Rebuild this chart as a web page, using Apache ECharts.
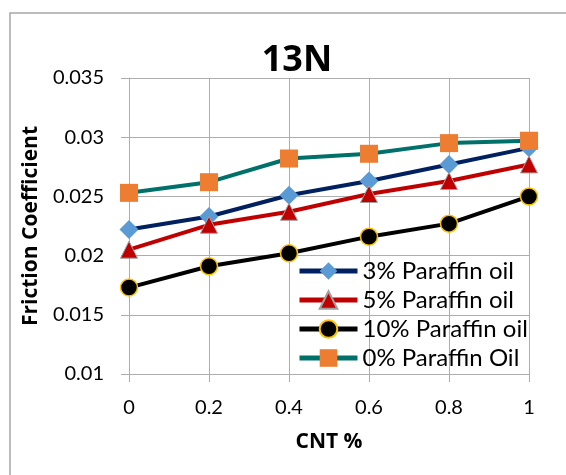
<!DOCTYPE html>
<html><head><meta charset="utf-8">
<script src="https://cdn.jsdelivr.net/npm/echarts@6/dist/echarts.min.js"></script>
<style>html,body{margin:0;padding:0;background:#fff}#c{width:566px;height:475px}</style>
</head><body><div id="c"></div>
<script>
const cnt = [0, 0.2, 0.4, 0.6, 0.8, 1];
const seriesNames = ['3% Paraffin oil', '5% Paraffin oil', '10% Paraffin oil', '0% Paraffin Oil'];
const p3 = [0.0222, 0.0233, 0.0251, 0.0263, 0.0277, 0.0291];
const p5 = [0.0205, 0.0226, 0.0237, 0.0252, 0.0263, 0.0277];
const p10 = [0.0173, 0.0191, 0.0202, 0.0216, 0.0227, 0.0250];
const p0 = [0.0253, 0.0262, 0.0282, 0.0286, 0.0295, 0.0297];
const xTicks = ['0', '0.2', '0.4', '0.6', '0.8', '1'];
const yTicks = ['0.01', '0.015', '0.02', '0.025', '0.03', '0.035'];

const font = 'Lato, "Liberation Sans", sans-serif';
const bfont = '"Open Sans", "DejaVu Sans", sans-serif';
const grid = '#ADADAD';
function pts(v){ return cnt.map((x,i)=>[x, v[i]]); }
function mk(name, data, lineColor, symbol, size, fill, border, bw){
  return {name, type:'line', data:pts(data), symbol, symbolSize:size,
    lineStyle:{color:lineColor, width:4}, itemStyle:{color:fill, borderColor:border, borderWidth:bw},
    emphasis:{disabled:true}, animation:false};
}
const chart = echarts.init(document.getElementById('c'));
chart.setOption({
  animation:false,
  title:{text:'13N', left:292, top:38, textAlign:'center', textStyle:{fontFamily:bfont, fontWeight:'bold', fontSize:36, color:'#000'}},
  graphic:[{type:'rect', shape:{x:10, y:13, width:700, height:600}, style:{fill:'none', stroke:'#A6A6A6', lineWidth:1.5}, silent:true}],
  grid:{left:129, top:78, width:400, height:296},
  legend:{orient:'vertical', left:292, top:254, itemWidth:58, itemHeight:22, itemGap:5,
    lineStyle:{width:5},
    textStyle:{fontFamily:font, fontSize:24, color:'#000'}, data:seriesNames},
  xAxis:{type:'value', min:0, max:1, interval:0.2, name:'CNT %', nameLocation:'middle', nameGap:58,
    nameTextStyle:{fontFamily:bfont, fontWeight:'bold', fontSize:21, color:'#000'},
    axisLine:{lineStyle:{color:grid}}, axisTick:{show:true, length:8, lineStyle:{color:grid}},
    splitLine:{show:true, lineStyle:{color:grid, width:1}},
    axisLabel:{fontFamily:font, fontSize:20, color:'#000', margin:24, formatter:(v)=>xTicks[Math.round(v/0.2)]}},
  yAxis:{type:'value', min:0.01, max:0.035, interval:0.005, name:'Friction Coefficient', nameLocation:'middle', nameGap:86,
    nameTextStyle:{fontFamily:bfont, fontWeight:'bold', fontSize:21, color:'#000'},
    axisLine:{show:true, lineStyle:{color:grid}}, axisTick:{show:true, length:8, lineStyle:{color:grid}},
    splitLine:{show:true, lineStyle:{color:grid, width:1}},
    axisLabel:{fontFamily:font, fontSize:20, color:'#000', margin:25, formatter:(v)=>yTicks[Math.round((v-0.01)/0.005)]}},
  series:[
    mk(seriesNames[0], p3, '#002060', 'diamond', 19, '#5B9BD5', '#5B9BD5', 0),
    mk(seriesNames[1], p5, '#C00000', 'triangle', 17, '#C00000', '#A0A0A0', 1),
    mk(seriesNames[2], p10, '#000000', 'circle', 17, '#000000', '#FFC000', 1.5),
    mk(seriesNames[3], p0, '#00706B', 'rect', 18, '#ED7D31', '#ED7D31', 0)
  ]
});
</script></body></html>
